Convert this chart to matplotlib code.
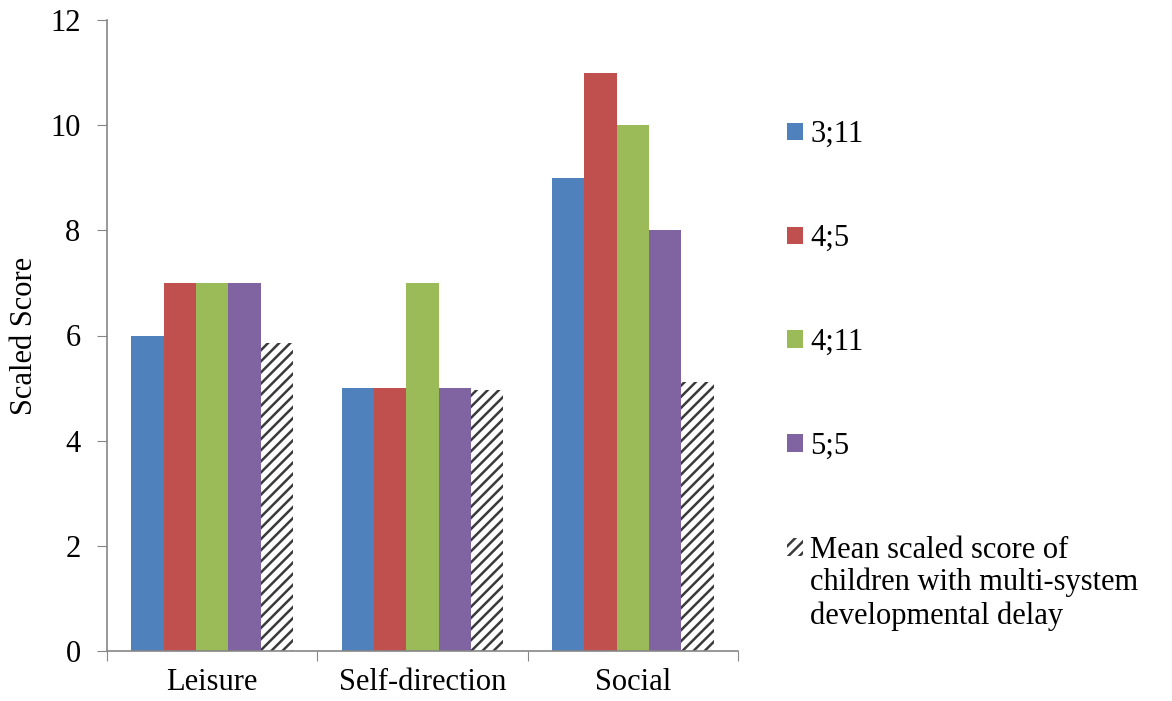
import numpy as np
import matplotlib.pyplot as plt

# data
categories = ['Leisure', 'Self-direction', 'Social']
series_names = ['3;11', '4;5', '4;11', '5;5']
age_3_11 = [6, 5, 9]
age_4_5 = [7, 5, 11]
age_4_11 = [7, 7, 10]
age_5_5 = [7, 5, 8]
mean_delay = [5.86, 4.96, 5.12]
mean_label = ['Mean scaled score of', 'children with multi-system', 'developmental delay']

colors = ['#4F81BD', '#C0504D', '#9BBB59', '#8064A2']

plt.rcParams['font.family'] = ['Liberation Serif', 'DejaVu Serif']
plt.rcParams['hatch.linewidth'] = 1.8
plt.rcParams['hatch.color'] = '#3a3a3a'

fig = plt.figure(figsize=(11.72, 7.01), dpi=100)
ax = fig.add_axes([107 / 1172, 50 / 701, 631 / 1172, 631 / 701])

x = np.arange(len(categories))
w = 1 / 6.5
all_series = [age_3_11, age_4_5, age_4_11, age_5_5]
for i, vals in enumerate(all_series):
    ax.bar(x + (i - 2) * w, vals, w, color=colors[i], label=series_names[i])
ax.bar(x + 2 * w, mean_delay, w, color='white', edgecolor='#3a3a3a', linewidth=0,
       hatch='///', label=mean_label[0])

ax.set_xlim(-0.5, 2.5)
ax.set_ylim(0, 12)
ax.set_yticks(range(0, 13, 2))
ax.set_xticks([-0.5, 0.5, 1.5, 2.5], minor=False)
ax.set_xticklabels([])
ax.set_xticks(x, minor=True)
ax.set_xticklabels(categories, minor=True)
ax.tick_params(axis='x', which='minor', length=0, labelsize=22, pad=12)
ax.tick_params(axis='x', which='major', length=7, color='#868686', direction='out')
ax.tick_params(axis='y', length=7, color='#868686', labelsize=22, pad=12)
for s in ['top', 'right']:
    ax.spines[s].set_visible(False)
for s in ['left', 'bottom']:
    ax.spines[s].set_color('#868686')
    ax.spines[s].set_linewidth(1.2)
ax.set_ylabel('Scaled Score', fontsize=22, labelpad=8)

leg = fig.legend(loc='upper left', bbox_to_anchor=(775 / 1172, 1 - 108 / 701), frameon=False,
                 fontsize=22, labelspacing=2.45, handlelength=0.5, handleheight=0.5,
                 handletextpad=0.25, borderaxespad=0)

# remaining lines of the last legend label, placed under its first line
fig.canvas.draw()
last = leg.get_texts()[-1]
bb = last.get_window_extent().transformed(fig.transFigure.inverted())
fig.text(bb.x0, bb.y0 - 0.004, '\n'.join(mean_label[1:]), fontsize=22,
         va='top', ha='left', linespacing=1.2)

fig.savefig('out.png', dpi=100)
